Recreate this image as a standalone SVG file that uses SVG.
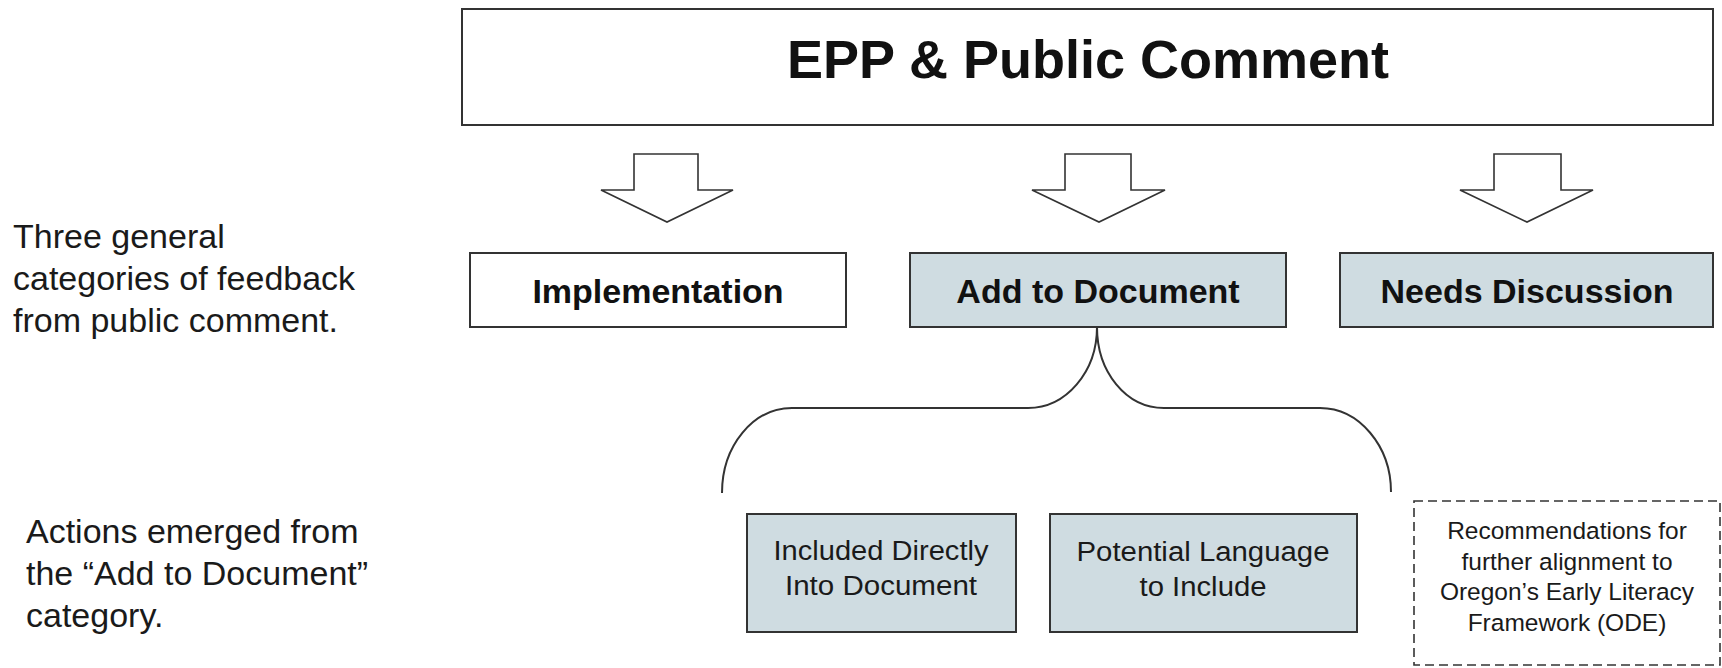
<svg xmlns="http://www.w3.org/2000/svg" width="1722" height="668" viewBox="0 0 1722 668">
<style>
  text { font-family: "Liberation Sans", Arial, sans-serif; fill: #111; }
  .title { font-size: 54px; font-weight: bold; text-anchor: middle; }
  .cat { font-size: 34px; font-weight: bold; text-anchor: middle; }
  .side { font-size: 34px; fill: #1a1a1a; }
  .sub { font-size: 27px; text-anchor: middle; fill: #1a1a1a; }
  .rec { font-size: 24.5px; text-anchor: middle; fill: #1a1a1a; }
  .box { stroke: #333; stroke-width: 2; }
  .white { fill: #ffffff; }
  .blue { fill: #cfdce1; }
  .arrow { fill: #ffffff; stroke: #333; stroke-width: 1.6; stroke-linejoin: miter; }
  .brace { fill: none; stroke: #333; stroke-width: 2; }
  .dashed { fill: #ffffff; stroke: #333; stroke-width: 1.6; stroke-dasharray: 9 5; }
</style>

<g id="title-node">
  <rect class="box white" x="462" y="9" width="1251" height="116"/>
  <text class="title" x="1088" y="78">EPP &amp; Public Comment</text>
</g>

<g id="side-label-1">
  <text class="side" x="13" y="248">Three general</text>
  <text class="side" x="13" y="290">categories of feedback</text>
  <text class="side" x="13" y="332">from public comment.</text>
</g>

<g id="side-label-2">
  <text class="side" x="26" y="543">Actions emerged from</text>
  <text class="side" x="26" y="585">the “Add to Document”</text>
  <text class="side" x="26" y="627">category.</text>
</g>

<g id="connectors">
  <polygon class="arrow" points="634,154 698,154 698,190 733,190 667,222 601,190 634,190"/>
  <polygon class="arrow" points="1065,154 1131,154 1131,190 1165,190 1099,222 1032,190 1065,190"/>
  <polygon class="arrow" points="1494,154 1561,154 1561,190 1593,190 1527,222 1460,190 1494,190"/>
  <path class="brace" d="M1097,327 C1097,372 1066,408 1028,408 L792,408 C753,408 722,446 722,493"/>
  <path class="brace" d="M1097,327 C1097,372 1126,408 1164,408 L1320,408 C1359,408 1391,446 1391,492"/>
</g>

<g id="implementation">
  <rect class="box white" x="470" y="253" width="376" height="74"/>
  <text class="cat" x="658" y="303">Implementation</text>
</g>

<g id="add-to-document">
  <rect class="box blue" x="910" y="253" width="376" height="74"/>
  <text class="cat" x="1098" y="303">Add to Document</text>
</g>

<g id="needs-discussion">
  <rect class="box blue" x="1340" y="253" width="373" height="74"/>
  <text class="cat" x="1527" y="303">Needs Discussion</text>
</g>

<g id="included-directly">
  <rect class="box blue" x="747" y="514" width="269" height="118"/>
  <text class="sub" x="881" y="560" textLength="215" lengthAdjust="spacingAndGlyphs">Included Directly</text>
  <text class="sub" x="881" y="595" textLength="192" lengthAdjust="spacingAndGlyphs">Into Document</text>
</g>

<g id="potential-language">
  <rect class="box blue" x="1050" y="514" width="307" height="118"/>
  <text class="sub" x="1203" y="561" textLength="253" lengthAdjust="spacingAndGlyphs">Potential Language</text>
  <text class="sub" x="1203" y="596" textLength="127" lengthAdjust="spacingAndGlyphs">to Include</text>
</g>

<g id="recommendations">
  <rect class="dashed" x="1414" y="501" width="306" height="164"/>
  <text class="rec" x="1567" y="539">Recommendations for</text>
  <text class="rec" x="1567" y="570">further alignment to</text>
  <text class="rec" x="1567" y="600">Oregon’s Early Literacy</text>
  <text class="rec" x="1567" y="631">Framework (ODE)</text>
</g>
</svg>
